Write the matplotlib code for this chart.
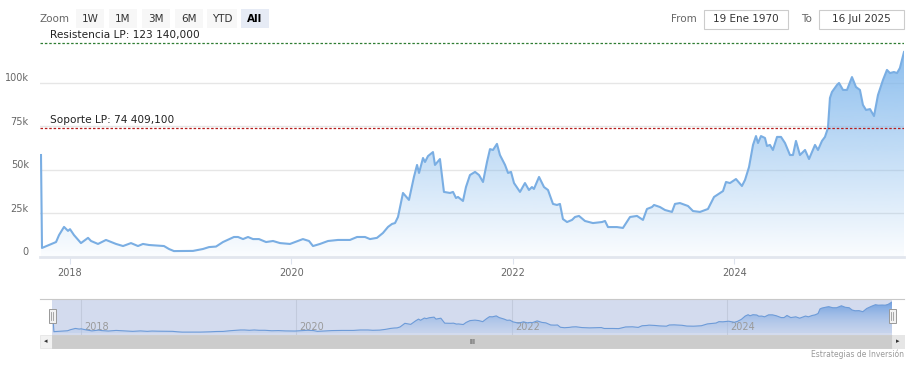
#!/usr/bin/python3
# -*- coding: utf-8 -*-
"""
Gráfico de precio con líneas de soporte / resistencia (estilo Highstock).
Salida: out.png (914x369)
"""

import numpy as np
import matplotlib
matplotlib.use('Agg')
import matplotlib.pyplot as plt
from matplotlib.patches import Polygon, Rectangle
from matplotlib.colors import to_rgb

plt.rcParams['font.family'] = ['DejaVu Sans']

# ---- datos (fecha en años decimales, precio en miles) ----
years = [
    2017.738, 2017.747, 2017.810, 2017.874, 2017.901, 2017.946, 2017.982, 2018.000,
    2018.036, 2018.099, 2018.163, 2018.190, 2018.253, 2018.325, 2018.416, 2018.479,
    2018.551, 2018.614, 2018.659, 2018.714, 2018.849, 2018.894, 2018.939, 2019.111,
    2019.201, 2019.256, 2019.319, 2019.382, 2019.481, 2019.518, 2019.563, 2019.608,
    2019.653, 2019.707, 2019.771, 2019.834, 2019.897, 2019.987, 2020.104, 2020.159,
    2020.195, 2020.258, 2020.331, 2020.421, 2020.529, 2020.593, 2020.665, 2020.710,
    2020.773, 2020.827, 2020.873, 2020.909, 2020.936, 2020.963, 2021.008, 2021.062,
    2021.107, 2021.135, 2021.153, 2021.189, 2021.207, 2021.234, 2021.279, 2021.297,
    2021.342, 2021.378, 2021.433, 2021.460, 2021.487, 2021.505, 2021.550, 2021.577,
    2021.613, 2021.659, 2021.695, 2021.731, 2021.767, 2021.794, 2021.821, 2021.857,
    2021.884, 2021.930, 2021.957, 2021.984, 2022.011, 2022.065, 2022.110, 2022.146,
    2022.173, 2022.191, 2022.237, 2022.282, 2022.318, 2022.363, 2022.399, 2022.426,
    2022.453, 2022.490, 2022.535, 2022.562, 2022.598, 2022.652, 2022.724, 2022.806,
    2022.833, 2022.860, 2022.941, 2022.995, 2023.059, 2023.122, 2023.176, 2023.212,
    2023.257, 2023.276, 2023.330, 2023.375, 2023.438, 2023.465, 2023.510, 2023.583,
    2023.628, 2023.691, 2023.763, 2023.818, 2023.872, 2023.899, 2023.926, 2023.962,
    2024.016, 2024.070, 2024.098, 2024.134, 2024.170, 2024.197, 2024.215, 2024.242,
    2024.278, 2024.296, 2024.323, 2024.350, 2024.387, 2024.423, 2024.459, 2024.504,
    2024.531, 2024.558, 2024.594, 2024.640, 2024.676, 2024.730, 2024.757, 2024.793,
    2024.820, 2024.847, 2024.865, 2024.883, 2024.929, 2024.947, 2024.983, 2025.019,
    2025.064, 2025.100, 2025.136, 2025.163, 2025.191, 2025.227, 2025.263, 2025.299,
    2025.344, 2025.380, 2025.407, 2025.443, 2025.471, 2025.497, 2025.534,
]
prices_k = [
    58.6, 5.2, 6.9, 8.6, 12.6, 17.3, 15.0, 16.0,
    12.6, 8.0, 11.0, 9.2, 7.5, 9.8, 7.5, 6.3,
    8.0, 6.3, 7.5, 6.9, 6.3, 4.6, 3.4, 3.5,
    4.6, 5.7, 6.0, 8.6, 11.5, 11.5, 10.3, 11.5,
    10.3, 10.3, 8.6, 9.2, 8.0, 7.5, 10.3, 9.2,
    6.3, 7.5, 9.2, 9.8, 9.8, 11.5, 11.5, 10.3,
    11.0, 13.8, 17.3, 19.0, 19.5, 23.0, 36.8, 32.8,
    46.0, 52.9, 48.3, 56.9, 54.6, 58.0, 60.3, 52.9,
    56.3, 37.4, 36.8, 37.4, 33.9, 34.5, 32.2, 40.2,
    47.1, 48.9, 47.1, 43.1, 54.6, 62.0, 61.5, 65.0,
    58.6, 52.9, 48.3, 48.9, 42.5, 37.4, 42.5, 38.5,
    40.2, 39.1, 46.0, 40.2, 38.5, 30.5, 29.9, 30.5,
    21.8, 20.1, 21.3, 23.0, 23.6, 20.7, 19.5, 20.1,
    20.7, 17.2, 17.2, 16.7, 23.0, 23.6, 21.3, 27.6,
    28.7, 29.9, 28.7, 27.0, 25.9, 30.5, 31.0, 29.3,
    26.4, 25.9, 27.6, 34.5, 36.8, 37.9, 43.1, 42.5,
    44.8, 40.8, 44.3, 51.7, 64.4, 69.5, 65.5, 69.5,
    68.4, 63.8, 64.4, 61.5, 69.0, 69.0, 65.5, 58.6,
    58.6, 66.7, 58.6, 61.5, 56.3, 64.4, 61.5, 66.7,
    69.0, 74.1, 91.4, 94.8, 98.9, 100.0, 96.0, 96.0,
    103.4, 97.7, 96.0, 87.4, 84.5, 85.0, 81.0, 93.1,
    101.7, 107.5, 105.7, 106.3, 105.7, 108.6, 117.8,
]

resistencia = 123140.000
soporte = 74409.100
y_ticks = [0, 25, 50, 75, 100]
y_tick_labels = ['0', '25k', '50k', '75k', '100k']
x_years = [2018, 2020, 2022, 2024]
botones = ['1W', '1M', '3M', '6M', 'YTD', 'All']
fecha_desde = '19 Ene 1970'
fecha_hasta = '16 Jul 2025'

W, H = 914, 369
X_MIN, X_MAX = 2017.729, 2025.534
Y_TOP = 124.7

LINE = '#7aaee3'
TXT = '#666666'


def fx(px):
    return px / W


def fy(py):
    return 1 - py / H


def gradient_fill(ax, x, y, ybot, ytop, c_top, c_bot, a_top, a_bot):
    """Relleno degradado vertical bajo la curva."""
    n = 256
    grad = np.zeros((n, 1, 4))
    rt, rb = np.array(to_rgb(c_top)), np.array(to_rgb(c_bot))
    for i in range(n):
        f = i / (n - 1)  # 0 arriba, 1 abajo
        grad[i, 0, :3] = rt * (1 - f) + rb * f
        grad[i, 0, 3] = a_top * (1 - f) + a_bot * f
    verts = [(x[0], ybot)] + list(zip(x, y)) + [(x[-1], ybot)]
    poly = Polygon(verts, closed=True, facecolor='none', edgecolor='none')
    ax.add_patch(poly)
    im = ax.imshow(grad, extent=[x[0], x[-1], ybot, ytop], origin='upper',
                   aspect='auto', zorder=1)
    im.set_clip_path(poly)


fig = plt.figure(figsize=(W / 100, H / 100), dpi=100)
fig.patch.set_facecolor('white')

# ---- gráfico principal ----
ax = fig.add_axes([fx(40), fy(257), fx(864), 217 / H])
ax.set_xlim(X_MIN, X_MAX)
ax.set_ylim(0, Y_TOP)
for s in ax.spines.values():
    s.set_visible(False)

for v in y_ticks[1:]:
    ax.axhline(v, color='#e6e6e6', lw=1, zorder=0)

gradient_fill(ax, years, prices_k, 0, Y_TOP, '#7cb5ec', '#7cb5ec', 0.92, 0.03)
ax.plot(years, prices_k, color=LINE, lw=1.5, zorder=3, solid_joinstyle='round')

ax.axhline(resistencia / 1000, color='#2e7d32', lw=0.9, ls=(0, (2, 1.5)), zorder=4)
ax.axhline(soporte / 1000, color='#b71c1c', lw=0.9, ls=(0, (2, 1.5)), zorder=4)
ax.text(2017.82, resistencia / 1000 + 1.5, 'Resistencia LP: 123 140,000',
        fontsize=7.6, color='#222222', va='bottom', ha='left', clip_on=False)
ax.text(2017.82, soporte / 1000 + 1.5, 'Soporte LP: 74 409,100',
        fontsize=7.6, color='#222222', va='bottom', ha='left', clip_on=False)

ax.set_yticks(y_ticks)
ax.set_yticklabels([])
for v, lab in zip(y_ticks, y_tick_labels):
    ax.text(-0.013, v + 2.6, lab, transform=ax.get_yaxis_transform(),
            ha='right', va='center', fontsize=7, color=TXT)
ax.tick_params(axis='y', length=0)

ax.set_xticks(x_years)
ax.set_xticklabels([str(y) for y in x_years], fontsize=7, color=TXT)
ax.tick_params(axis='x', length=5, color='#dde3ee', pad=3)
ax.axhline(0, color='#e2e6ee', lw=2, zorder=5, clip_on=False)

# ---- navegador ----
nav = fig.add_axes([fx(52), fy(335), fx(840), 36 / H])
nav.set_xlim(X_MIN, X_MAX)
nav.set_ylim(-7.6, 129.2)
nav.set_facecolor('#d3dbee')
for s in nav.spines.values():
    s.set_visible(False)
nav.set_xticks([])
nav.set_yticks([])
for yr in x_years:
    nav.axvline(yr, color='#c2cadc', lw=0.8, zorder=0)
    nav.text(yr + 0.03, 4, str(yr), fontsize=7, color='#9a9a9a',
             ha='left', va='bottom')
gradient_fill(nav, years, prices_k, 0, 120, '#6a9de0', '#b3c8ea', 0.95, 0.35)
nav.plot(years, prices_k, color='#6d9bd8', lw=0.8, zorder=3)

# ---- elementos de interfaz ----
ov = fig.add_axes([0, 0, 1, 1], facecolor='none')
ov.set_xlim(0, W)
ov.set_ylim(H, 0)
ov.axis('off')

ov.plot([40, 904], [299, 299], color='#c8c8c8', lw=0.8)
# barra de desplazamiento
ov.add_patch(Rectangle((40, 335), 864, 13, facecolor='#f2f2f2', edgecolor='#e6e6e6', lw=0.6))
ov.add_patch(Rectangle((52, 335), 840, 13, facecolor='#cccccc', edgecolor='#cccccc', lw=0.6))
ov.add_patch(Rectangle((892, 335), 12, 13, facecolor='#e6e6e6', edgecolor='#e6e6e6', lw=0.6))
ov.text(472, 341.5, 'III', fontsize=5, color='#333333', ha='center', va='center')
ov.text(46, 341.5, '◂', fontsize=5, color='#333333', ha='center', va='center')
ov.text(898, 341.5, '▸', fontsize=5, color='#333333', ha='center', va='center')
# asas del navegador
for hx in (52, 892):
    ov.add_patch(Rectangle((hx - 3.5, 309), 7, 14, facecolor='#f2f2f2',
                           edgecolor='#999999', lw=0.7, zorder=6))
    ov.plot([hx - 1, hx - 1], [312, 320], color='#999999', lw=0.6, zorder=7)
    ov.plot([hx + 1, hx + 1], [312, 320], color='#999999', lw=0.6, zorder=7)

ov.text(904, 354, 'Estrategias de Inversión', fontsize=5.5, color='#999999',
        ha='right', va='center')

# selector de rango
ov.text(40, 19, 'Zoom', fontsize=7.5, color=TXT, ha='left', va='center')
btn_x = [76, 109, 142, 175, 207, 241]
btn_w = [28, 28, 28, 28, 30, 28]
for lab, bx, bw in zip(botones, btn_x, btn_w):
    sel = lab == 'All'
    ov.add_patch(Rectangle((bx, 9), bw, 19, facecolor='#e6ebf5' if sel else '#f7f7f7',
                           edgecolor='none'))
    ov.text(bx + bw / 2, 19, lab, fontsize=7.5, color='#000000' if sel else '#333333',
            ha='center', va='center', fontweight='bold' if sel else 'normal')

ov.text(697, 19, 'From', fontsize=7.5, color=TXT, ha='right', va='center')
ov.add_patch(Rectangle((704, 10), 84, 19, facecolor='white', edgecolor='#cccccc', lw=0.8))
ov.text(746, 19, fecha_desde, fontsize=7.5, color='#333333', ha='center', va='center')
ov.text(812, 19, 'To', fontsize=7.5, color=TXT, ha='right', va='center')
ov.add_patch(Rectangle((819, 10), 85, 19, facecolor='white', edgecolor='#cccccc', lw=0.8))
ov.text(861, 19, fecha_hasta, fontsize=7.5, color='#333333', ha='center', va='center')

fig.savefig('out.png', dpi=100, facecolor='white')
